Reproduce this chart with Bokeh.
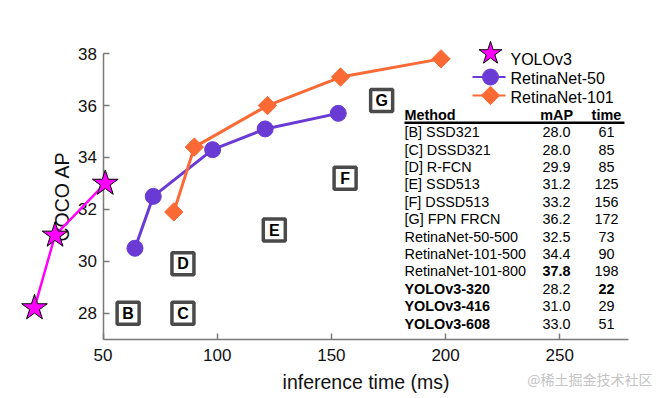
from bokeh.plotting import figure
from bokeh.models import Range1d, FixedTicker, ColumnDataSource, Label
from bokeh.core.properties import value
from bokeh.embed import file_html
from bokeh.resources import INLINE

# ---------------- data ----------------
yolo_time = [20, 29, 51]
yolo_map = [28.2, 31.0, 33.0]
r50_time = [64, 72, 98, 121, 153]
r50_map = [30.5, 32.5, 34.3, 35.1, 35.7]
r101_time = [81, 90, 122, 154, 198]
r101_map = [31.9, 34.4, 36.0, 37.1, 37.8]

other_labels = ["B", "C", "D", "E", "F", "G"]
other_time = [61, 85, 85, 125, 156, 172]
other_map = [28.0, 28.0, 29.9, 31.2, 33.2, 36.2]

legend_labels = ["YOLOv3", "RetinaNet-50", "RetinaNet-101"]

table_methods = ["[B] SSD321", "[C] DSSD321", "[D] R-FCN", "[E] SSD513", "[F] DSSD513",
                 "[G] FPN FRCN", "RetinaNet-50-500", "RetinaNet-101-500", "RetinaNet-101-800",
                 "YOLOv3-320", "YOLOv3-416", "YOLOv3-608"]
table_map = ["28.0", "28.0", "29.9", "31.2", "33.2", "36.2", "32.5", "34.4", "37.8",
             "28.2", "31.0", "33.0"]
table_time = ["61", "85", "85", "125", "156", "172", "73", "90", "198", "22", "29", "51"]
table_header = ["Method", "mAP", "time"]
bold_method_rows = [9, 10, 11]
bold_map_rows = [8]
bold_time_rows = [9]

x_ticks = [50, 100, 150, 200, 250]
y_ticks = [28, 30, 32, 34, 36, 38]

FONT = "Liberation Sans"
PURPLE = "#6a3bd4"
ORANGE = "#fb6a35"
MAGENTA = "#ff00ff"
AXIS = "#7a7a7a"

p = figure(width=666, height=398, output_backend="svg", toolbar_location=None,
           x_range=Range1d(5.12, 296.72), y_range=Range1d(24.71, 40.05),
           min_border_left=0, min_border_right=0, min_border_top=0, min_border_bottom=0)
p.outline_line_color = None
p.xgrid.visible = False
p.ygrid.visible = False
p.background_fill_color = "white"
p.border_fill_color = "white"

# axes
xa = p.xaxis[0]
xa.fixed_location = 27
xa.bounds = (50, 280)
xa.ticker = FixedTicker(ticks=x_ticks)
xa.axis_label = "inference time (ms)"
ya = p.yaxis[0]
ya.fixed_location = 50
ya.bounds = (27, 38)
ya.ticker = FixedTicker(ticks=y_ticks)
ya.axis_label = "COCO AP"
for ax in (xa, ya):
    ax.axis_line_color = AXIS
    ax.axis_line_width = 1.5
    ax.major_tick_line_color = AXIS
    ax.major_tick_line_width = 1.5
    ax.major_tick_in = 6
    ax.major_tick_out = 0
    ax.minor_tick_line_color = None
    ax.major_label_text_font = FONT
    ax.major_label_text_font_size = "17px"
    ax.major_label_text_color = "#111111"
    ax.axis_label_text_font = FONT
    ax.axis_label_text_font_size = "19.5px"
    ax.axis_label_text_font_style = "normal"
    ax.axis_label_text_color = "#111111"
xa.major_label_standoff = 10
xa.axis_label_standoff = 6
ya.major_label_standoff = 6
ya.axis_label_standoff = 3

# ---- other detectors: boxed letters ----
p.rect(x=other_time, y=other_map, width=22, height=22, width_units="screen",
       height_units="screen", fill_color="white", line_color="#4a4a4a", line_width=3.5)
p.text(x=other_time, y=other_map, text=other_labels, text_align="center",
       text_baseline="middle", text_font=value(FONT), text_font_style="bold",
       text_font_size="16px", text_color="black")

# ---- RetinaNet series ----
p.line(r50_time, r50_map, line_color=PURPLE, line_width=3)
p.scatter(r50_time, r50_map, marker="circle", size=16, fill_color=PURPLE, line_color=PURPLE)
p.line(r101_time, r101_map, line_color=ORANGE, line_width=3)
p.scatter(r101_time, r101_map, marker="square", angle=0.785398, size=13,
          fill_color=ORANGE, line_color=ORANGE)

# ---- YOLOv3 (drawn above the axis) ----
p.line(yolo_time, yolo_map, line_color=MAGENTA, line_width=2.5, level="overlay")
p.scatter(yolo_time, yolo_map, marker="star", size=27, fill_color=MAGENTA,
          line_color="black", line_width=1, level="overlay")

# ---- legend (drawn by hand so the markers keep their size) ----
leg_x = 219.66
leg_x0, leg_x1 = 211.78, 226.23
leg_text_x = 228.42
leg_marker_y = [38.01, 37.10, 36.39]
leg_text_y = [37.78, 37.05, 36.33]
p.segment(x0=[leg_x0, leg_x0], y0=leg_marker_y[1:], x1=[leg_x1, leg_x1], y1=leg_marker_y[1:],
          line_color=[PURPLE, ORANGE], line_width=2)
p.scatter([leg_x], [leg_marker_y[0]], marker="star", size=24, fill_color=MAGENTA,
          line_color="black", line_width=1)
p.scatter([leg_x], [leg_marker_y[1]], marker="circle", size=16, fill_color=PURPLE,
          line_color=PURPLE)
p.scatter([leg_x], [leg_marker_y[2]], marker="square", angle=0.785398, size=13,
          fill_color=ORANGE, line_color=ORANGE)
p.text(x=[leg_text_x] * 3, y=leg_text_y, text=legend_labels, text_align="left",
       text_baseline="middle", text_font=value(FONT), text_font_size="16px",
       text_color="black")

# ---- table ----
row0 = 34.975
row_step = 0.6704
col_method = 182.0
col_map = 248.6
col_time = 270.4
head_y = 35.62
rule_y = 35.337
rows_y = [row0 - i * row_step for i in range(len(table_methods))]


def table_text(xpos, idxs, texts, align, bold):
    src = ColumnDataSource(dict(x=[xpos] * len(idxs), y=[rows_y[i] for i in idxs],
                                t=[texts[i] for i in idxs]))
    p.text(x="x", y="y", text="t", source=src, text_align=align, text_baseline="middle",
           text_font=value(FONT), text_font_size="14.4px",
           text_font_style="bold" if bold else "normal", text_color="black")


n = len(table_methods)
table_text(col_method, [i for i in range(n) if i not in bold_method_rows], table_methods, "left", False)
table_text(col_method, bold_method_rows, table_methods, "left", True)
table_text(col_map, [i for i in range(n) if i not in bold_map_rows], table_map, "center", False)
table_text(col_map, bold_map_rows, table_map, "center", True)
table_text(col_time, [i for i in range(n) if i not in bold_time_rows], table_time, "center", False)
table_text(col_time, bold_time_rows, table_time, "center", True)

head = ColumnDataSource(dict(x=[col_method, col_map, col_time], y=[head_y] * 3,
                             t=table_header, a=["left", "center", "center"]))
p.text(x="x", y="y", text="t", source=head, text_align="a", text_baseline="middle",
       text_font=value(FONT), text_font_size="14.4px", text_font_style="bold",
       text_color="black")
p.segment(x0=[182.0], y0=[rule_y], x1=[278.3], y1=[rule_y], line_color="black", line_width=2.5)

# ---- watermark ----
p.add_layout(Label(x=290.6, y=25.48, text="@稀土掘金技术社区", text_color="#c4c4c4",
                   text_font="Noto Sans CJK SC", text_font_size="14px",
                   text_baseline="middle", text_align="right"))

open("out.html", "w").write(file_html(p, INLINE))
